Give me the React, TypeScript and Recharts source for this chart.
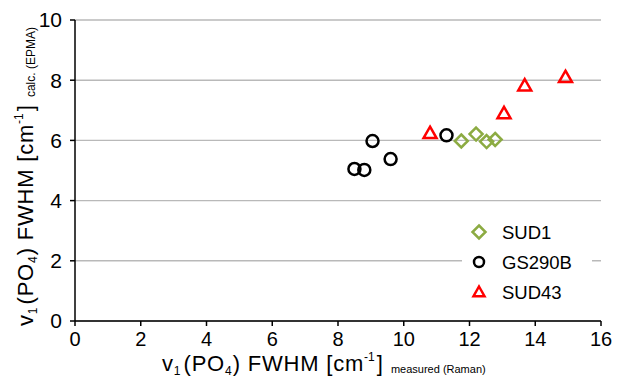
import React from 'react';
import {
  CartesianGrid,
  Legend,
  Scatter,
  ScatterChart,
  XAxis,
  YAxis,
} from 'recharts';

const xTicks = [0, 2, 4, 6, 8, 10, 12, 14, 16];
const yTicks = [0, 2, 4, 6, 8, 10];

const sud1X = [11.75, 12.2, 12.52, 12.78];
const sud1Y = [5.98, 6.21, 5.96, 6.03];

const gsX = [8.5, 8.8, 9.05, 9.6, 11.3];
const gsY = [5.05, 5.02, 5.98, 5.38, 6.17];

const sud43X = [10.8, 13.05, 13.68, 14.92];
const sud43Y = [6.24, 6.9, 7.82, 8.1];

const toPoints = (xs: number[], ys: number[]) => xs.map((x, i) => ({ x, y: ys[i] }));

const GREEN = '#8cab42';
const RED = '#ff0000';
const FONT = '"Liberation Sans", Arial, sans-serif';

const Diamond = ({ cx, cy, s = 6.5 }: any) => (
  <path
    d={`M${cx},${cy - s} L${cx + s},${cy} L${cx},${cy + s} L${cx - s},${cy} Z`}
    fill="none"
    stroke={GREEN}
    strokeWidth={2.5}
  />
);

const Ring = ({ cx, cy, r = 6 }: any) => (
  <circle cx={cx} cy={cy} r={r} fill="none" stroke="#000" strokeWidth={2.5} />
);

const Tri = ({ cx, cy, s = 6.5 }: any) => (
  <path
    d={`M${cx},${cy - s} L${cx + s},${cy + s * 0.75} L${cx - s},${cy + s * 0.75} Z`}
    fill="none"
    stroke={RED}
    strokeWidth={2.5}
    strokeLinejoin="miter"
  />
);

const legendItems = [
  { name: 'SUD1', Shape: Diamond, size: 6.5 },
  { name: 'GS290B', Shape: Ring, size: 5 },
  { name: 'SUD43', Shape: Tri, size: 5.5 },
];

const LegendBox = () => (
  <svg width={130} height={95} style={{ background: '#fff', display: 'block' }}>
    {legendItems.map(({ name, Shape, size }, i) => (
      <g key={name}>
        <Shape cx={17} cy={17 + i * 30} s={size} r={size} />
        <text x={40} y={24 + i * 30} fontSize={18.5} fontFamily={FONT} fill="#000">
          {name}
        </text>
      </g>
    ))}
  </svg>
);

// axis title with sub/superscripts; starts at (tx, ty) and runs along the axis
const AxisTitle = ({ tx, ty, vertical, tail, tailSize }: any) => (
  <text
    x={0}
    y={0}
    transform={`translate(${tx}, ${ty})${vertical ? ' rotate(-90)' : ''}`}
    textAnchor="start"
    fontFamily={FONT}
    fill="#000"
  >
    <tspan fontSize={22} letterSpacing={0.8}>v</tspan>
    <tspan fontSize={12} dy={4}>1</tspan>
    <tspan fontSize={22} dy={-4} dx={3} letterSpacing={0.8}>(PO</tspan>
    <tspan fontSize={12} dy={4}>4</tspan>
    <tspan fontSize={22} dy={-4} dx={1} letterSpacing={0.8}>) FWHM [cm</tspan>
    <tspan fontSize={12} dy={-10}>-1</tspan>
    <tspan fontSize={22} dy={10} dx={2}>]</tspan>
    <tspan fontSize={tailSize} dy={2} dx={8}>{tail}</tspan>
  </text>
);

export default function App() {
  return (
    <div style={{ width: 617, height: 382, background: '#fff', fontFamily: FONT }}>
      <style>{'body{margin:0}'}</style>
      <ScatterChart
        width={617}
        height={382}
        margin={{ top: 20, right: 16, bottom: 0, left: 0 }}
      >
        <CartesianGrid vertical={false} stroke="#b9b9b9" strokeWidth={1.4} />
        <XAxis
          type="number"
          dataKey="x"
          domain={[0, 16]}
          ticks={xTicks}
          height={61}
          axisLine={{ stroke: '#000', strokeWidth: 1.5 }}
          tickLine={{ stroke: '#000', strokeWidth: 1.5 }}
          tickSize={5}
          tickMargin={6}
          tick={{ fill: '#000', fontSize: 20, fontFamily: FONT }}
          label={<AxisTitle tx={162} ty={371} tail="measured (Raman)" tailSize={11} />}
        />
        <YAxis
          type="number"
          dataKey="y"
          domain={[0, 10]}
          ticks={yTicks}
          width={75}
          axisLine={{ stroke: '#000', strokeWidth: 1.5 }}
          tickLine={{ stroke: '#000', strokeWidth: 1.5 }}
          tickSize={5}
          tickMargin={8}
          tick={{ fill: '#000', fontSize: 21, fontFamily: FONT }}
          label={<AxisTitle tx={33} ty={326} vertical tail="calc. (EPMA)" tailSize={12} />}
        />
        <Legend
          layout="vertical"
          align="center"
          verticalAlign="middle"
          content={<LegendBox />}
          wrapperStyle={{ left: 462, top: 215, width: 130, height: 95 }}
        />
        <Scatter
          name="SUD1"
          data={toPoints(sud1X, sud1Y)}
          shape={<Diamond />}
          isAnimationActive={false}
        />
        <Scatter
          name="GS290B"
          data={toPoints(gsX, gsY)}
          shape={<Ring />}
          isAnimationActive={false}
        />
        <Scatter
          name="SUD43"
          data={toPoints(sud43X, sud43Y)}
          shape={<Tri />}
          isAnimationActive={false}
        />
      </ScatterChart>
    </div>
  );
}
